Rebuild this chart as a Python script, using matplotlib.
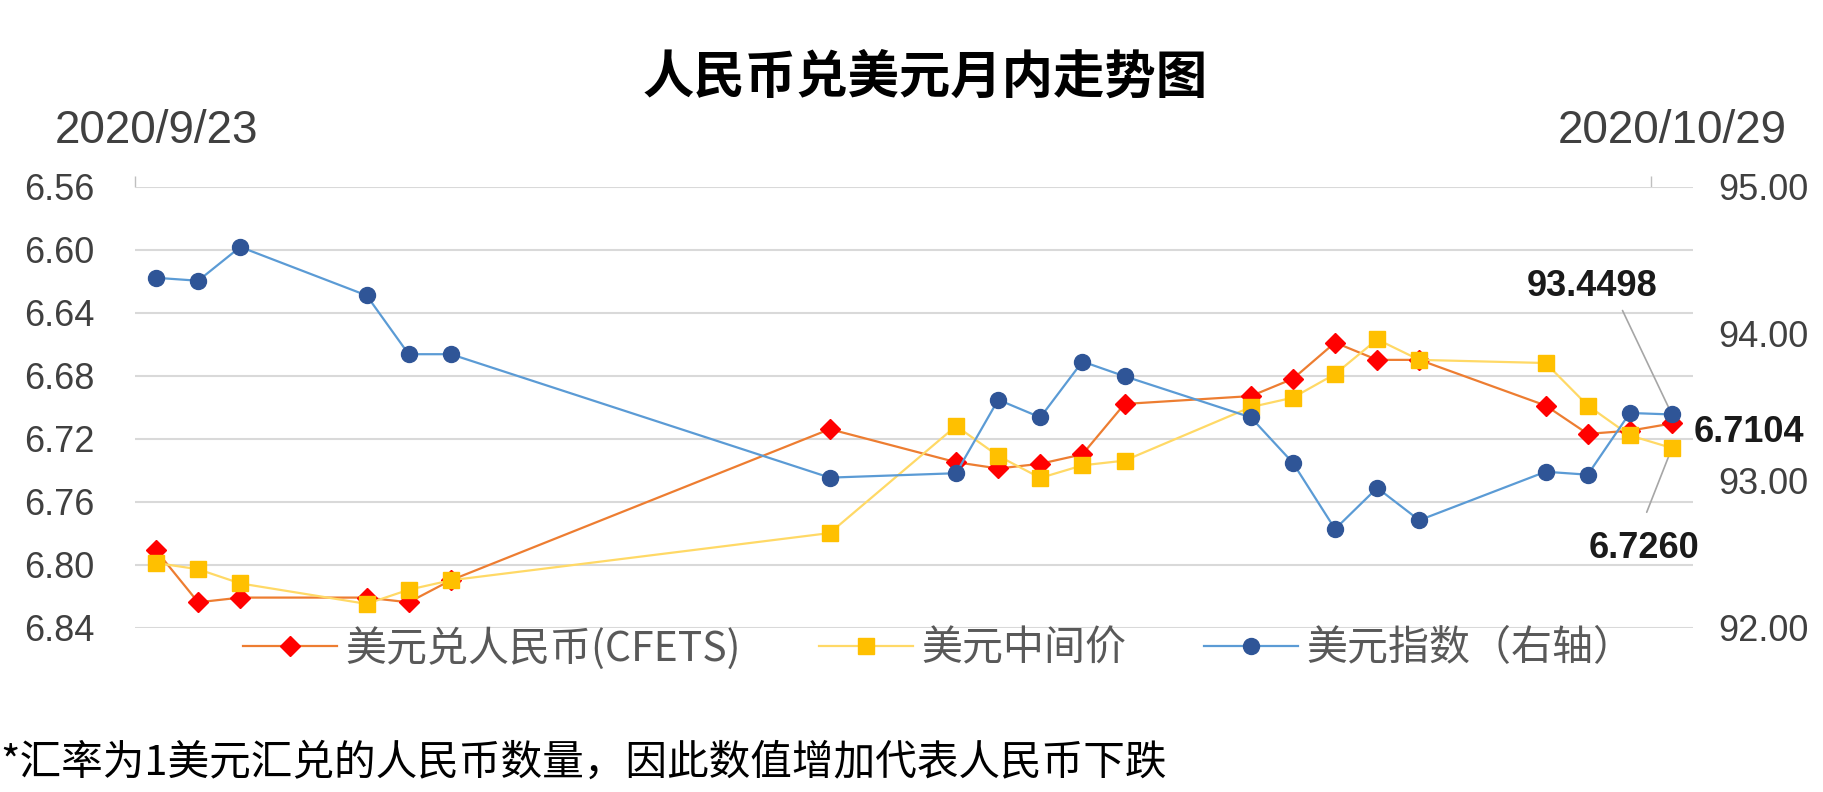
import matplotlib
matplotlib.use('Agg')
import matplotlib.pyplot as plt
import matplotlib.dates as mdates
from matplotlib.lines import Line2D
from matplotlib.ticker import FixedLocator, FixedFormatter, FormatStrFormatter, NullFormatter
import numpy as np

# ---------------- data ----------------
dates = ['2020-09-23', '2020-09-24', '2020-09-25', '2020-09-28', '2020-09-29', '2020-09-30',
         '2020-10-09', '2020-10-12', '2020-10-13', '2020-10-14', '2020-10-15', '2020-10-16',
         '2020-10-19', '2020-10-20', '2020-10-21', '2020-10-22', '2020-10-23',
         '2020-10-26', '2020-10-27', '2020-10-28', '2020-10-29']
cfets = [6.791, 6.824, 6.821, 6.821, 6.824, 6.810,
         6.714, 6.735, 6.739, 6.736, 6.730, 6.698,
         6.693, 6.682, 6.659, 6.670, 6.670,
         6.699, 6.717, 6.715, 6.7104]
central = [6.799, 6.803, 6.812, 6.825, 6.816, 6.810,
           6.780, 6.712, 6.731, 6.745, 6.737, 6.734,
           6.700, 6.694, 6.679, 6.657, 6.670,
           6.672, 6.699, 6.718, 6.7260]
dxy = [94.38, 94.36, 94.59, 94.26, 93.86, 93.86,
       93.02, 93.05, 93.55, 93.43, 93.81, 93.71,
       93.43, 93.12, 92.67, 92.95, 92.73,
       93.06, 93.04, 93.46, 93.4498]

series_names = ['美元兑人民币(CFETS)', '美元中间价', '美元指数（右轴）']
left_ticks = [6.56, 6.60, 6.64, 6.68, 6.72, 6.76, 6.80, 6.84]
right_ticks = [92.0, 93.0, 94.0, 95.0]
date_labels = ['2020/9/23', '2020/10/29']
title = '人民币兑美元月内走势图'
note = '*汇率为1美元汇兑的人民币数量，因此数值增加代表人民币下跌'

# ---------------- style ----------------
plt.rcParams['font.family'] = ['Liberation Sans', 'DejaVu Sans']
CJK = ['Noto Sans CJK SC', 'DejaVu Sans']
TICK_C = '#404040'
GRID_C = '#D9D9D9'

W, H = 1824, 792
fig = plt.figure(figsize=(W / 100, H / 100), dpi=100)
ax = fig.add_axes([135 / W, 1 - 627.5 / H, (1693 - 135) / W, (627.5 - 186.7) / H])
ax2 = ax.twinx()

d = np.array([mdates.datestr2num(s) for s in dates])
xc = d + 0.5  # points sit in the middle of each day interval

l1, = ax.plot(xc, cfets, color='#ED7D31', lw=1.6, marker='D', ms=10,
              mfc='#FF0000', mec='#FF0000', zorder=3)
l2, = ax.plot(xc, central, color='#FFD966', lw=1.6, marker='s', ms=12,
              mfc='#FFC000', mec='#FFC000', zorder=4)
l3, = ax2.plot(xc, dxy, color='#5B9BD5', lw=1.6, marker='o', ms=11.5,
               mfc='#2F5597', mec='#2F5597', zorder=5)

ax.set_xlim(d[0], d[-1] + 1)
ax.set_ylim(left_ticks[-1], left_ticks[0])
ax2.set_ylim(right_ticks[0], right_ticks[-1])

for a in (ax, ax2):
    for s in a.spines.values():
        s.set_visible(False)

ax.set_yticks(left_ticks)
ax.yaxis.set_major_formatter(FormatStrFormatter('%.2f'))
ax.grid(axis='y', color=GRID_C, lw=1.5)
ax.set_axisbelow(True)
ax.tick_params(axis='y', length=0, pad=29, labelsize=26, labelcolor=TICK_C)

ax2.set_yticks(right_ticks)
ax2.yaxis.set_major_formatter(FormatStrFormatter('%.2f'))
ax2.tick_params(axis='y', length=0, pad=18, labelsize=26, labelcolor=TICK_C)

# x axis on top: tick marks at day starts, labels centred on the day
ax.xaxis.set_ticks_position('top')
ax.xaxis.set_major_locator(FixedLocator([d[0], d[-1]]))
ax.xaxis.set_major_formatter(NullFormatter())
ax.xaxis.set_minor_locator(FixedLocator([xc[0], xc[-1]]))
ax.xaxis.set_minor_formatter(FixedFormatter(date_labels))
ax.tick_params(axis='x', which='major', top=True, bottom=False, length=8,
               width=1, color='#BFBFBF', labeltop=False, labelbottom=False)
ax.tick_params(axis='x', which='minor', top=True, bottom=False, length=0,
               pad=24, labelsize=33, labelcolor=TICK_C, labeltop=True, labelbottom=False)

# data labels
lab_kw = dict(textcoords='offset pixels', fontsize=26, fontweight='bold', color='#1a1a1a')
ax2.annotate(f'{dxy[-1]:.4f}', xy=(xc[-1], dxy[-1]), xytext=(-80, 128),
             ha='center', va='center',
             arrowprops=dict(arrowstyle='-', color='#A6A6A6', lw=1.2,
                             shrinkA=3, shrinkB=0, relpos=(0.71, 0)), **lab_kw)
ax.annotate(f'{cfets[-1]:.4f}', xy=(xc[-1], cfets[-1]), xytext=(22, -9),
            ha='left', va='center', **lab_kw)
ax.annotate(f'{central[-1]:.4f}', xy=(xc[-1], central[-1]), xytext=(-28, -100),
            ha='center', va='center',
            arrowprops=dict(arrowstyle='-', color='#A6A6A6', lw=1.2,
                            shrinkA=12, shrinkB=0, relpos=(0.46, 1)), **lab_kw)

# legend
handles = [Line2D([], [], color=l.get_color(), lw=l.get_linewidth(), marker=l.get_marker(),
                  ms=l.get_markersize(), mfc=l.get_markerfacecolor(), mec=l.get_markeredgecolor())
           for l in (l1, l2, l3)]
fig.legend(handles, series_names, loc='center left', bbox_to_anchor=(243 / W, 1 - 648 / H),
           ncol=3, frameon=False, handlelength=2.3, handletextpad=0.2, columnspacing=1.9,
           borderpad=0, borderaxespad=0, labelcolor='#595959',
           prop={'family': CJK, 'size': 29.5})

fig.text(925 / W, 1 - 77 / H, title, ha='center', va='center', fontsize=37,
         family=CJK, fontweight='bold', color='#000000')
fig.text(0.0, 1 - 763 / H, note, ha='left', va='center', fontsize=30,
         family=CJK, color='#000000')

fig.savefig('out.png', dpi=100)
